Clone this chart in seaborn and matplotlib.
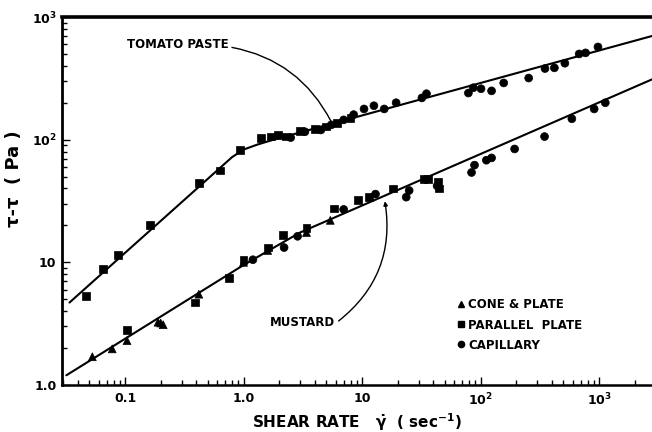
import matplotlib
matplotlib.use("Agg")
import matplotlib.pyplot as plt
from matplotlib.lines import Line2D
from matplotlib.ticker import LogLocator, NullFormatter
import pandas as pd
import seaborn as sns

# ---- Tomato paste measurements ----
tomato_pp_rate = [0.047, 0.065, 0.087, 0.163, 0.42, 0.63, 0.93, 1.4, 1.7, 1.95, 2.3, 3.0, 4.0, 5.0, 6.2, 8.0]
tomato_pp_stress = [5.3, 8.8, 11.5, 20, 44, 56, 82, 103, 106, 110, 106, 118, 122, 128, 137, 150]
tomato_cap_rate = [2.5, 3.3, 4.5, 5.5, 7.0, 8.5, 10.4, 12.6, 15.4, 19.4, 32, 35, 79, 87, 101,
                   124, 157, 255, 350, 420, 515, 680, 770, 980]
tomato_cap_stress = [104, 116, 120, 132, 145, 160, 178, 189, 178, 200, 219, 237, 240, 265, 260,
                     250, 290, 318, 380, 385, 420, 500, 510, 570]

# ---- Mustard measurements ----
mustard_cp_rate = [0.053, 0.078, 0.104, 0.19, 0.2, 0.21, 0.42, 1.0, 1.6, 3.4, 5.4]
mustard_cp_stress = [1.7, 1.97, 2.3, 3.25, 3.2, 3.1, 5.5, 10.0, 12.5, 17.5, 22]
mustard_pp_rate = [0.104, 0.39, 0.75, 1.0, 1.6, 2.15, 3.4, 5.8, 9.2, 11.5, 18.3, 33, 36, 44, 45]
mustard_pp_stress = [2.8, 4.7, 7.5, 10.4, 13.2, 16.6, 18.9, 27.5, 32, 34, 40, 48, 48, 45, 40]
mustard_cap_rate = [1.2, 2.2, 2.86, 7.0, 13, 23.6, 25, 43, 84, 89, 112, 124, 194, 347, 590, 910, 1130]
mustard_cap_stress = [10.5, 13.2, 16.3, 27, 36, 34, 38.5, 42, 54, 62, 68, 71, 84, 106, 148, 178, 200]

# ---- Fitted curves (knots along each fit) ----
tomato_fit_rate = [0.034, 0.8, 1.0, 1.3, 1.8, 2800]
tomato_fit_stress = [4.7, 72, 83, 91, 100, 700]
mustard_fit_rate = [0.032, 1.0, 3.0, 2800]
mustard_fit_stress = [1.2, 9.5, 17.5, 310]

method_labels = ["CONE & PLATE", "PARALLEL  PLATE", "CAPILLARY"]
method_markers = {"CONE & PLATE": "^", "PARALLEL  PLATE": "s", "CAPILLARY": "o"}

frames = []
for rate, stress, method in [
    (tomato_pp_rate, tomato_pp_stress, "PARALLEL  PLATE"),
    (tomato_cap_rate, tomato_cap_stress, "CAPILLARY"),
    (mustard_cp_rate, mustard_cp_stress, "CONE & PLATE"),
    (mustard_pp_rate, mustard_pp_stress, "PARALLEL  PLATE"),
    (mustard_cap_rate, mustard_cap_stress, "CAPILLARY"),
]:
    frames.append(pd.DataFrame({"rate": rate, "stress": stress, "method": method}))
data = pd.concat(frames, ignore_index=True)

sns.set_style("ticks")
plt.rcParams["font.family"] = ["DejaVu Sans"]
plt.rcParams["font.weight"] = "bold"
plt.rcParams["mathtext.default"] = "bf"
for key in ["text.color", "axes.labelcolor", "xtick.color", "ytick.color"]:
    plt.rcParams[key] = "black"

fig = plt.figure(figsize=(6.52, 4.32), dpi=100)
ax = fig.add_axes([62 / 652, 1 - 385 / 432, 590 / 652, 368 / 432])

sns.lineplot(x=tomato_fit_rate, y=tomato_fit_stress, color="black", lw=1.5,
             sort=False, estimator=None, ax=ax)
sns.lineplot(x=mustard_fit_rate, y=mustard_fit_stress, color="black", lw=1.5,
             sort=False, estimator=None, ax=ax)
sns.scatterplot(data=data, x="rate", y="stress", style="method", markers=method_markers,
                style_order=method_labels, color="black", edgecolor="black", s=32,
                linewidth=0.5, legend=False, ax=ax)

ax.set_xscale("log")
ax.set_yscale("log")
ax.set_xlim(0.0294, 2800)
ax.set_ylim(1.0, 1000)

ax.set_xticks([0.1, 1, 10, 100, 1000])
ax.set_xticklabels(["0.1", "1.0", "10", r"$10^2$", r"$10^3$"])
ax.set_yticks([1, 10, 100, 1000])
ax.set_yticklabels(["1.0", "10", r"$10^2$", r"$10^3$"])
ax.xaxis.set_minor_locator(LogLocator(base=10, subs=range(2, 10), numticks=20))
ax.yaxis.set_minor_locator(LogLocator(base=10, subs=range(2, 10), numticks=20))
ax.xaxis.set_minor_formatter(NullFormatter())
ax.yaxis.set_minor_formatter(NullFormatter())
ax.tick_params(which="both", direction="in", top=False, right=False, color="black",
               labelcolor="black", labelsize=9, width=1.0)
ax.tick_params(which="major", length=6)
ax.tick_params(which="minor", length=3.5)
ax.tick_params(axis="x", pad=5)
ax.tick_params(axis="y", pad=4)

ax.spines["right"].set_visible(False)
ax.spines["top"].set_linewidth(2.6)
ax.spines["left"].set_linewidth(2.0)
ax.spines["bottom"].set_linewidth(1.8)
for sp in ax.spines.values():
    sp.set_color("black")

ax.set_xlabel(r"SHEAR RATE   $\dot{\gamma}$  ( sec$^{-1}$)", fontsize=11, fontweight="bold",
              labelpad=2)
ax.set_ylabel("τ-τ  ( Pa )", fontsize=13, fontweight="bold")
ax.yaxis.set_label_coords(-0.066, 0.56)

ax.annotate("TOMATO PASTE", xy=(5.5, 140), xytext=(0.104, 600),
            ha="left", va="center", fontsize=8.5, fontweight="bold",
            arrowprops=dict(arrowstyle="-", color="black", lw=1.0,
                            connectionstyle="arc3,rad=-0.25", relpos=(1.0, 0.3),
                            shrinkA=0, shrinkB=0))
ax.annotate("MUSTARD", xy=(15.6, 31.5), xytext=(1.68, 3.25),
            ha="left", va="center", fontsize=8.5, fontweight="bold",
            arrowprops=dict(arrowstyle="-|>", color="black", lw=1.0, mutation_scale=6,
                            connectionstyle="arc3,rad=0.3", relpos=(1.0, 0.4),
                            shrinkA=0, shrinkB=0))

handles = [Line2D([], [], ls="none", marker=method_markers[m], color="black",
                  markersize=4.5) for m in method_labels]
ax.legend(handles, method_labels, loc="upper left", bbox_to_anchor=(0.662, 0.248),
          frameon=False, handlelength=0.6, handletextpad=0.3, labelspacing=0.6,
          borderaxespad=0, prop={"size": 8.5, "weight": "bold"})

fig.savefig("out.png", dpi=100)
